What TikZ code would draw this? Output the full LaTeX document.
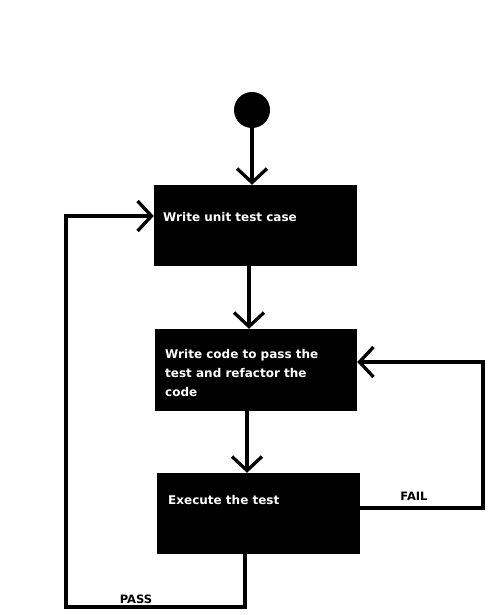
\documentclass[tikz,border=0pt]{standalone}
\usepackage{fontspec}
\setmainfont{DejaVu Sans}
\usetikzlibrary{arrows.meta}
\begin{document}
\begin{tikzpicture}[x=1pt,y=-1pt,
  box/.style={draw=none,fill=black,minimum width=203pt,minimum height=81pt,inner sep=0pt},
  txt/.style={text=white,font=\fontsize{12}{19}\selectfont\bfseries,anchor=base west,align=left,inner sep=0pt},
  lbl/.style={text=black,font=\fontsize{11.5}{13}\selectfont\bfseries,inner sep=0pt},
  flow/.style={line width=3.3pt,-{Straight Barb[length=14pt,width=30pt,line width=3.3pt]}},
  seg/.style={line width=3.3pt}]
\useasboundingbox (0,0) rectangle (493,615);
\node[circle,fill=black,minimum size=36pt,inner sep=0pt] (c) at (252,110) {};
\node[box] (b1) at (255.5,225.5) {};
\node[box,minimum width=202pt,minimum height=82pt] (b2) at (256,370) {};
\node[box] (b3) at (258.5,513.5) {};
\node[txt] (t1) at (163,221.5) {Write unit test case};
\node[txt,anchor=north west] (t2) at (165,349) {Write code to pass the\\test and refactor the\\code};
\node[txt] (t3) at (168,504.5) {Execute the test};
\node[lbl] (fail) at (414,496) {FAIL};
\node[lbl] (pass) at (136,599) {PASS};
\coordinate (f1) at (483,508);
\coordinate (f2) at (483,362);
\coordinate (p1) at (245,607);
\coordinate (p2) at (66,607);
\coordinate (p3) at (66,216);
\draw[flow] (c.south) -- (c.south |- b1.north);
\draw[flow] (b1.south -| 249,0) -- (b2.north -| 249,0);
\draw[flow] (b2.south -| 247,0) -- (b3.north -| 247,0);
\draw[flow] (b3.east |- f1) -- (f1) -- (f2) -- (b2.east |- f2);
\draw[flow] (b3.south -| p1) -- (p1) -- (p2) -- (p3) -- (b1.west |- p3);
\end{tikzpicture}
\end{document}
